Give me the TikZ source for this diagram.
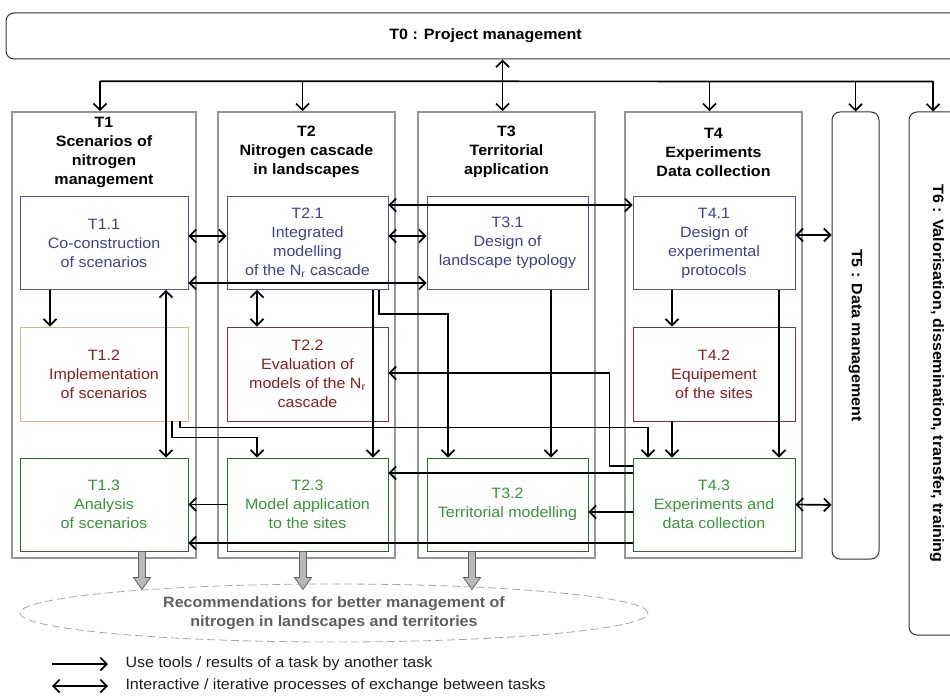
\documentclass[tikz,border=0pt]{standalone}
\usepackage{fontspec}
\setmainfont[FakeStretch=1.07]{Liberation Sans}
\usetikzlibrary{arrows.meta}
\usetikzlibrary{shapes.geometric}
\definecolor{colgray}{RGB}{150,150,150}
\definecolor{btext}{RGB}{65,65,145}
\definecolor{bbord}{RGB}{85,85,160}
\definecolor{rtext}{RGB}{140,30,30}
\definecolor{rbord}{RGB}{130,50,60}
\definecolor{tbord}{RGB}{215,180,130}
\definecolor{gtext}{RGB}{55,150,55}
\definecolor{gbord}{RGB}{45,105,45}
\definecolor{recgray}{RGB}{95,95,95}
\definecolor{legtext}{RGB}{30,30,30}
\newcommand{\txt}{\fontsize{15}{19}\selectfont}
\newcommand{\gdown}[2]{\draw[outarr] ([xshift=#2]#1.south) ++(-3.5,0) -- ++(0,26) -- ++(-5,0) -- ++(8.5,12) -- ++(8.5,-12) -- ++(-5,0) -- ++(0,-26) -- cycle;}
\tikzstyle{col}=[draw=colgray,line width=1.6pt,fill=white,minimum width=177,minimum height=446]
\tikzstyle{side}=[draw=black!80,line width=1pt,rounded corners=8pt,fill=white,font=\txt\bfseries]
\tikzstyle{head}=[align=center,font=\txt\bfseries]
\tikzstyle{task}=[fill=white,line width=0.9pt,align=center,minimum width=161,minimum height=93,inner sep=2pt]
\tikzstyle{design}=[task,draw=bbord,text=btext]
\tikzstyle{evalu}=[task,draw=rbord,text=rtext]
\tikzstyle{appl}=[task,draw=gbord,text=gtext]
\tikzstyle{uses}=[line width=1.7pt,->,>={Straight Barb[length=6.5pt,width=13pt]}]
\tikzstyle{inter}=[line width=1.7pt,<->,>={Straight Barb[length=6.5pt,width=13pt]}]
\tikzstyle{outarr}=[draw=gray!75!black,fill=gray!55,line width=0.8pt]

\begin{document}
\begin{tikzpicture}[x=1pt,y=-1pt,font=\txt]
    \useasboundingbox (0,0) rectangle (950,698);
    \clip (0,0) rectangle (950,698);

    \node[col,minimum width=184] (t1) at (104,335) {};
    \node[col] (t2) at (306.5,335) {};
    \node[col] (t3) at (506.5,335) {};
    \node[col] (t4) at (713.5,335) {};
    \node[side,minimum width=959,minimum height=46] (t0) at (485.5,36) {T0 : Project management};
    \node[side,minimum width=47,minimum height=447] (t5) at (855.5,335.5) {\rotatebox{-90}{T5 : Data management}};
    \node[side,minimum width=56,minimum height=523] (t6) at (937,373.5) {\rotatebox{-90}{T6 : Valorisation, dissemination, transfer, training}};

    \node[head] (h1) at (104,152) {T1\\Scenarios of\\nitrogen\\management};
    \node[head] (h2) at (306.5,152) {T2\\Nitrogen cascade\\in landscapes};
    \node[head] (h3) at (506.5,152) {T3\\Territorial\\application};
    \node[head] (h4) at (713.5,152) {T4\\Experiments\\Data collection};

    \node[design,minimum width=168] (t11) at (104,243) {T1.1\\Co-construction\\of scenarios};
    \node[design] (t21) at (307.5,243) {T2.1\\Integrated\\modelling\\of the N\textsubscript{r} cascade};
    \node[design] (t31) at (507.5,243) {T3.1\\Design of\\landscape typology};
    \node[design,minimum width=162] (t41) at (714,243) {T4.1\\Design of\\experimental\\protocols};

    \node[evalu,draw=tbord,minimum width=168,minimum height=94] (t12) at (104,374) {T1.2\\Implementation\\of scenarios};
    \node[evalu,minimum height=94] (t22) at (307.5,374) {T2.2\\Evaluation of\\models of the N\textsubscript{r}\\cascade};
    \node[evalu,minimum width=162,minimum height=94] (t42) at (714,374) {T4.2\\Equipement\\of the sites};

    \node[appl,minimum width=168] (t13) at (104,504.5) {T1.3\\Analysis\\of scenarios};
    \node[appl] (t23) at (307.5,504.5) {T2.3\\Model application\\to the sites};
    \node[appl] (t32) at (507.5,504.5) {T3.2\\Territorial modelling};
    \node[appl,minimum width=162] (t43) at (714,504.5) {T4.3\\Experiments and\\data collection};

    % project management links
    \draw[line width=1.7pt] ([xshift=-4,yshift=30]t1.north) -- ([xshift=-4,yshift=30]t6.north);
    \foreach \c/\s in {t1/-4,t2/-4,t4/-4,t5/0,t6/-4}
        \draw[uses] ([xshift=\s,yshift=30]\c.north) -- ([xshift=\s]\c.north);
    \draw[inter] ([xshift=17]t0.south) -- ([xshift=-4]t3.north);

    % exchanges
    \draw[inter] ([yshift=7]t11.east) -- ([yshift=7]t21.west);
    \draw[inter] ([yshift=7]t21.east) -- ([yshift=7]t31.west);
    \draw[inter] ([yshift=-40]t11.east) -- ([yshift=-40]t31.west);
    \draw[inter] ([yshift=38]t21.east) -- ([yshift=38]t41.west);
    \draw[inter] ([yshift=8]t41.east) -- ([yshift=100.5]t5.west);
    \draw[inter] (t43.east) -- ([yshift=-169.5]t5.west);
    \draw[inter] ([xshift=62]t11.south) -- ([xshift=62]t13.north);
    \draw[inter] ([xshift=-50.5]t21.south) -- ([xshift=-50.5]t22.north);

    % results used by other tasks
    \draw[uses] ([xshift=-54]t11.south) -- ([xshift=-54]t12.north);
    \draw[uses] ([xshift=65.5]t21.south) -- ([xshift=65.5]t23.north);
    \draw[uses] ([xshift=71.5]t21.south) -- ++(0,24) -| ([xshift=-59.5]t32.north);
    \draw[uses] ([xshift=43.5]t31.south) -- ([xshift=43.5]t32.north);
    \draw[uses] ([xshift=-42]t41.south) -- ([xshift=-42]t42.north);
    \draw[uses] ([xshift=-42]t42.south) -- ([xshift=-42]t43.north);
    \draw[uses] ([xshift=65]t41.south) -- ([xshift=65]t43.north);
    \draw[uses] ([xshift=68]t12.south) -- ++(0,16) -| ([xshift=-50.5]t23.north);
    \draw[uses] ([xshift=76]t12.south) -- ++(0,6) -| ([xshift=-66]t43.north);
    \draw[uses] ([yshift=38.5]t43.west) -- ++(-23,0) |- ([yshift=1]t22.east);
    \draw[uses] ([yshift=31.5]t43.west) -- ([yshift=31.5]t23.east);
    \draw[uses] ([yshift=-7.5]t43.west) -- ([yshift=-7.5]t32.east);
    \draw[uses] ([yshift=-38.5]t43.west) -- ([yshift=-38.5]t13.east);
    \draw[uses] (t23.west) -- (t13.east);

    % outputs
    \gdown{t13}{38}
    \gdown{t23}{-4.5}
    \gdown{t32}{-35.5}
    \node[ellipse,draw=gray!70,dash pattern=on 8pt off 4pt,line width=0.8pt,inner sep=0pt,
          minimum width=628,minimum height=58,align=center,text=recgray,font=\txt\bfseries]
          (rec) at (334,613) {Recommendations for better management of\\nitrogen in landscapes and territories};

    \node[anchor=west,text=legtext] (leg1) at (122,664) {Use tools / results of a task by another task};
    \node[anchor=west,text=legtext] (leg2) at (122,686) {Interactive / iterative processes of exchange between tasks};
    \draw[uses] ([xshift=-70]leg1.west) -- ([xshift=-14]leg1.west);
    \draw[inter] ([xshift=-70]leg2.west) -- ([xshift=-14]leg2.west);
\end{tikzpicture}
\end{document}
